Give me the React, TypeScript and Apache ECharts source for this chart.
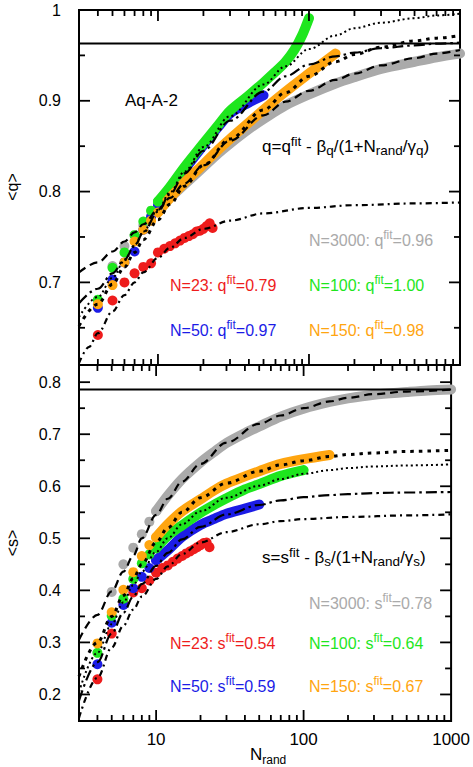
import React, { useEffect, useRef } from "react";
import * as echarts from "echarts";

const FONT = "'Liberation Sans', Arial, Helvetica, sans-serif";

const X_MIN = 3;
const X_MAX = 1000;
const Q_MIN = 0.609;
const Q_MAX = 1.0;
const S_MIN = 0.149;
const S_MAX = 0.833;

const xMajorTicks = [10, 100];
const xMinorTicks = [4, 5, 6, 7, 8, 9, 20, 30, 40, 50, 60, 70, 80, 90, 200, 300, 400, 500, 600, 700, 800, 900];
const xTickLabels = [10, 100, 1000];
const qMajorTicks = [0.7, 0.8, 0.9, 1.0];
const qMinorTicks = [0.65, 0.75, 0.85, 0.95];
const sMajorTicks = [0.2, 0.3, 0.4, 0.5, 0.6, 0.7, 0.8];
const sMinorTicks = [0.25, 0.35, 0.45, 0.55, 0.65, 0.75];

const qAsymptote = 0.963;
const sAsymptote = 0.786;

// ---------- top panel: <q> vs N_rand ----------
const qGray = [[5,0.718],[6,0.740],[7,0.752],[8,0.763],[9,0.773],[10,0.781],[12,0.793],[15,0.808],[20,0.827],[25,0.842],[30,0.853],[40,0.869],[50,0.880],[70,0.895],[100,0.907],[150,0.919],[200,0.926],[300,0.935],[500,0.943],[700,0.948],[1000,0.952]];
const qRed = [[4,0.642],[5,0.680],[6,0.700],[7,0.710],[8,0.717],[9,0.721],[10,0.733],[11,0.737],[12,0.740],[13,0.743],[14,0.746],[15,0.749],[16,0.751],[17,0.753],[18,0.756],[19,0.757],[20,0.759],[21,0.762],[22,0.765],[23,0.760]];
const qBlue = [[4,0.672],[5,0.703],[6,0.722],[7,0.734],[8,0.758],[9,0.772],[10,0.784],[12,0.800],[15,0.824],[20,0.851],[25,0.871],[30,0.886],[40,0.898],[50,0.906]];
const qGreen = [[4,0.681],[5,0.716],[6,0.733],[7,0.752],[8,0.767],[9,0.779],[10,0.789],[12,0.805],[15,0.827],[20,0.853],[25,0.873],[30,0.889],[40,0.906],[50,0.920],[60,0.932],[70,0.943],[80,0.956],[90,0.972],[100,0.991]];
const qOrange = [[4,0.676],[5,0.697],[6,0.722],[7,0.745],[8,0.758],[9,0.768],[10,0.777],[12,0.793],[15,0.810],[20,0.830],[25,0.846],[30,0.858],[40,0.876],[50,0.890],[70,0.910],[100,0.930],[120,0.940],[150,0.952]];

const qGrayFit = [[3,0.711],[4,0.722],[5,0.734],[6,0.745],[7,0.755],[8,0.764],[10,0.780],[12,0.793],[15,0.809],[20,0.829],[30,0.856],[50,0.884],[70,0.899],[100,0.911],[150,0.923],[200,0.930],[300,0.939],[500,0.947],[700,0.952],[1000,0.956]];
const qRedFit = [[3,0.611],[3.5,0.629],[4,0.644],[5,0.668],[6,0.686],[7,0.700],[8,0.711],[10,0.727],[12,0.738],[15,0.749],[20,0.759],[30,0.768],[50,0.776],[100,0.782],[200,0.785],[500,0.787],[1000,0.788]];
const qBlueFit = [[3,0.677],[4,0.693],[5,0.710],[6,0.725],[7,0.740],[8,0.755],[10,0.778],[12,0.797],[15,0.820],[20,0.845],[30,0.878],[50,0.910],[70,0.927],[100,0.940],[150,0.949],[200,0.953],[300,0.958],[500,0.961],[700,0.963],[1000,0.964]];
const qGreenFit = [[3,0.662],[4,0.684],[5,0.705],[6,0.724],[7,0.741],[8,0.756],[10,0.780],[12,0.799],[15,0.822],[20,0.849],[30,0.883],[50,0.918],[70,0.938],[100,0.957],[150,0.972],[200,0.980],[300,0.986],[500,0.991],[700,0.994],[1000,0.996]];
const qOrangeFit = [[3,0.652],[4,0.676],[5,0.698],[6,0.717],[7,0.733],[8,0.747],[10,0.769],[12,0.786],[15,0.806],[20,0.829],[30,0.858],[50,0.890],[70,0.909],[100,0.927],[150,0.943],[200,0.951],[300,0.959],[500,0.966],[700,0.969],[1000,0.972]];

// ---------- bottom panel: <s> vs N_rand ----------
const sGray = [[5,0.397],[6,0.450],[7,0.482],[8,0.508],[9,0.532],[10,0.552],[12,0.582],[15,0.614],[20,0.646],[25,0.667],[30,0.683],[40,0.702],[50,0.715],[70,0.734],[100,0.749],[150,0.762],[200,0.769],[300,0.776],[500,0.781],[700,0.784],[1000,0.786]];
const sRed = [[4,0.229],[5,0.317],[6,0.376],[7,0.396],[8,0.404],[9,0.419],[10,0.434],[11,0.443],[12,0.448],[13,0.455],[14,0.461],[15,0.466],[16,0.471],[17,0.475],[18,0.479],[19,0.483],[20,0.487],[21,0.491],[22,0.492],[23,0.483]];
const sBlue = [[4,0.258],[5,0.338],[6,0.372],[7,0.404],[8,0.426],[9,0.443],[10,0.458],[12,0.477],[15,0.503],[20,0.526],[25,0.538],[30,0.547],[40,0.557],[50,0.565]];
const sGreen = [[4,0.280],[5,0.351],[6,0.384],[7,0.422],[8,0.452],[9,0.469],[10,0.481],[12,0.505],[15,0.525],[20,0.549],[25,0.565],[30,0.577],[40,0.594],[50,0.604],[70,0.620],[100,0.631]];
const sOrange = [[4,0.298],[5,0.358],[6,0.401],[7,0.435],[8,0.466],[9,0.487],[10,0.502],[12,0.527],[15,0.552],[20,0.575],[25,0.593],[30,0.605],[40,0.619],[50,0.629],[70,0.643],[100,0.652],[150,0.660]];

const sGrayFit = [[3,0.305],[4,0.353],[5,0.398],[6,0.436],[7,0.467],[8,0.500],[10,0.545],[12,0.576],[15,0.609],[20,0.643],[30,0.684],[50,0.720],[70,0.736],[100,0.750],[150,0.763],[200,0.770],[300,0.777],[500,0.782],[1000,0.786]];
const sRedFit = [[3,0.155],[4,0.232],[5,0.290],[6,0.332],[7,0.363],[8,0.388],[10,0.422],[12,0.446],[15,0.470],[20,0.492],[30,0.512],[50,0.527],[70,0.533],[100,0.537],[200,0.541],[500,0.544],[1000,0.546]];
const sBlueFit = [[3,0.188],[4,0.262],[5,0.317],[6,0.357],[7,0.388],[8,0.412],[10,0.447],[12,0.472],[15,0.498],[20,0.522],[30,0.546],[50,0.564],[70,0.573],[100,0.579],[150,0.583],[200,0.585],[300,0.587],[500,0.588],[1000,0.589]];
const sGreenFit = [[3,0.205],[4,0.280],[5,0.335],[6,0.377],[7,0.410],[8,0.436],[10,0.474],[12,0.500],[15,0.527],[20,0.552],[30,0.578],[50,0.601],[70,0.614],[100,0.624],[150,0.631],[200,0.635],[300,0.638],[500,0.640],[1000,0.642]];
const sOrangeFit = [[3,0.235],[4,0.300],[5,0.350],[6,0.390],[7,0.423],[8,0.450],[10,0.492],[12,0.520],[15,0.550],[20,0.578],[30,0.606],[50,0.629],[70,0.641],[100,0.649],[150,0.657],[200,0.661],[300,0.664],[500,0.667],[1000,0.669]];

const C_GRAY = "#aaaaaa";
const C_RED = "#ee1c1c";
const C_BLUE = "#1c1ce6";
const C_GREEN = "#1ee61e";
const C_ORANGE = "#ffa510";

const FIT_GRAY = { width: 2.2, type: [8, 5] };
const FIT_RED = { width: 2.2, type: [6, 4, 2, 4] };
const FIT_BLUE = { width: 2.2, type: [11, 4, 2.5, 4] };
const FIT_GREEN = { width: 2, type: [2, 3] };
const FIT_ORANGE = { width: 3, type: [3.5, 5] };

const DOT = 10;

function dotSeries(data: number[][], color: string, gi: number, bandFrom: number | null) {
  const out: any[] = [];
  const dots = bandFrom === null ? data : data.filter((d) => d[0] <= bandFrom);
  out.push({
    type: "scatter", xAxisIndex: gi, yAxisIndex: gi, data: dots, symbol: "circle",
    symbolSize: DOT, itemStyle: { color, opacity: 1 }, z: 2, silent: true,
  });
  if (bandFrom !== null) {
    const band = data.filter((d) => d[0] >= bandFrom);
    out.push({
      type: "line", xAxisIndex: gi, yAxisIndex: gi, data: band, symbol: "none", smooth: 0.3,
      lineStyle: { color, width: DOT, cap: "round", join: "round" }, z: 2, silent: true,
    });
  }
  return out;
}

function fitSeries(data: number[][], style: any, gi: number) {
  return {
    type: "line", xAxisIndex: gi, yAxisIndex: gi, data, symbol: "none", smooth: 0.35,
    smoothMonotone: "x",
    lineStyle: { color: "#000", width: style.width, type: style.type, cap: "butt" }, z: 3, silent: true,
  };
}

function hLine(v: number, gi: number) {
  return {
    type: "line", xAxisIndex: gi, yAxisIndex: gi, data: [[X_MIN, v], [X_MAX, v]], symbol: "none",
    lineStyle: { color: "#000", width: 2, type: "solid" }, z: 4, silent: true,
  };
}

function xTickSeries(gi: number, yMin: number, yMax: number) {
  const data = [
    ...xMajorTicks.map((v) => [v, yMin, 1]),
    ...xMinorTicks.map((v) => [v, yMin, 0]),
  ];
  return {
    type: "custom", xAxisIndex: gi, yAxisIndex: gi, data, encode: { x: 0, y: 1 }, z: 6, silent: true, clip: false,
    renderItem: (_p: any, api: any) => {
      const x = api.value(0);
      const len = api.value(2) ? 11 : 6;
      const pb = api.coord([x, yMin]);
      const pt = api.coord([x, yMax]);
      return {
        type: "group",
        children: [
          { type: "line", shape: { x1: pb[0], y1: pb[1], x2: pb[0], y2: pb[1] - len }, style: { stroke: "#000", lineWidth: 1.8 } },
          { type: "line", shape: { x1: pt[0], y1: pt[1], x2: pt[0], y2: pt[1] + len }, style: { stroke: "#000", lineWidth: 1.8 } },
        ],
      };
    },
  };
}

function yTickSeries(gi: number, major: number[], minor: number[]) {
  const data = [...major.map((v) => [X_MIN, v, 1]), ...minor.map((v) => [X_MIN, v, 0])];
  return {
    type: "custom", xAxisIndex: gi, yAxisIndex: gi, data, encode: { x: 0, y: 1 }, z: 6, silent: true, clip: false,
    renderItem: (_p: any, api: any) => {
      const y = api.value(1);
      const len = api.value(2) ? 11 : 6;
      const pl = api.coord([X_MIN, y]);
      const pr = api.coord([X_MAX, y]);
      return {
        type: "group",
        children: [
          { type: "line", shape: { x1: pl[0], y1: pl[1], x2: pl[0] + len, y2: pl[1] }, style: { stroke: "#000", lineWidth: 1.8 } },
          { type: "line", shape: { x1: pr[0], y1: pr[1], x2: pr[0] - len, y2: pr[1] }, style: { stroke: "#000", lineWidth: 1.8 } },
        ],
      };
    },
  };
}

const RICH = (color: string, main: number, small: number) => ({
  m: { fontSize: main, fontFamily: FONT, fill: color, color, lineHeight: main + 6 },
  sup: { fontSize: small, fontFamily: FONT, fill: color, color, lineHeight: small + 1, verticalAlign: "top" },
  sub: { fontSize: small, fontFamily: FONT, fill: color, color, lineHeight: small, verticalAlign: "bottom" },
});

function label(x: number, y: number, text: string, color: string, main = 16, small = 12, rotation = 0, align = "left") {
  return {
    type: "text", x, y, rotation, z: 20, silent: true,
    style: { text, rich: RICH(color, main, small), align, verticalAlign: "middle", fill: color, font: `${main}px ${FONT}` },
  };
}

function fitLabel(n: string, sym: string, val: string) {
  return `{m|N=${n}: ${sym}}{sup|fit}{m|=${val}}`;
}

export default function App() {
  const ref = useRef<HTMLDivElement>(null);
  useEffect(() => {
    if (!ref.current) return;
    const chart = echarts.init(ref.current, null, { renderer: "svg" });
    const yLabel = (v: number) => (Math.abs(v - 1) < 1e-9 ? "1" : v.toFixed(1));
    const option: any = {
      animation: false,
      grid: [
        { left: 79, top: 10, width: 381, height: 355, show: true, borderColor: "#000", borderWidth: 2, backgroundColor: "transparent" },
        { left: 79, top: 365, width: 381, height: 356, show: true, borderColor: "#000", borderWidth: 2, backgroundColor: "transparent" },
      ],
      xAxis: [
        { type: "log", logBase: 10, gridIndex: 0, min: X_MIN, max: X_MAX, axisLine: { show: false }, axisTick: { show: false }, axisLabel: { show: false }, splitLine: { show: false } },
        {
          type: "log", logBase: 10, gridIndex: 1, min: X_MIN, max: X_MAX, axisLine: { show: false }, axisTick: { show: false }, splitLine: { show: false },
          axisLabel: { customValues: xTickLabels, formatter: (v: number) => String(Math.round(v)), fontSize: 17, fontFamily: FONT, color: "#000", margin: 10, showMinLabel: true, showMaxLabel: true, alignMaxLabel: "center" },
        },
      ],
      yAxis: [
        {
          type: "value", gridIndex: 0, min: Q_MIN, max: Q_MAX, axisLine: { show: false }, axisTick: { show: false }, splitLine: { show: false },
          axisLabel: { customValues: qMajorTicks, formatter: yLabel, fontSize: 16, fontFamily: FONT, color: "#000", margin: 18 },
        },
        {
          type: "value", gridIndex: 1, min: S_MIN, max: S_MAX, axisLine: { show: false }, axisTick: { show: false }, splitLine: { show: false },
          axisLabel: { customValues: sMajorTicks, formatter: yLabel, fontSize: 16, fontFamily: FONT, color: "#000", margin: 18 },
        },
      ],
      series: [
        ...dotSeries(qGray, C_GRAY, 0, 10),
        ...dotSeries(qRed, C_RED, 0, null),
        ...dotSeries(qBlue, C_BLUE, 0, 10),
        ...dotSeries(qGreen, C_GREEN, 0, 10),
        ...dotSeries(qOrange, C_ORANGE, 0, 10),
        fitSeries(qGrayFit, FIT_GRAY, 0),
        fitSeries(qRedFit, FIT_RED, 0),
        fitSeries(qBlueFit, FIT_BLUE, 0),
        fitSeries(qGreenFit, FIT_GREEN, 0),
        fitSeries(qOrangeFit, FIT_ORANGE, 0),
        hLine(qAsymptote, 0),
        ...dotSeries(sGray, C_GRAY, 1, 10),
        ...dotSeries(sRed, C_RED, 1, null),
        ...dotSeries(sBlue, C_BLUE, 1, 10),
        ...dotSeries(sGreen, C_GREEN, 1, 10),
        ...dotSeries(sOrange, C_ORANGE, 1, 10),
        fitSeries(sGrayFit, FIT_GRAY, 1),
        fitSeries(sRedFit, FIT_RED, 1),
        fitSeries(sBlueFit, FIT_BLUE, 1),
        fitSeries(sGreenFit, FIT_GREEN, 1),
        fitSeries(sOrangeFit, FIT_ORANGE, 1),
        hLine(sAsymptote, 1),
        xTickSeries(0, Q_MIN, Q_MAX),
        xTickSeries(1, S_MIN, S_MAX),
        yTickSeries(0, qMajorTicks, qMinorTicks),
        yTickSeries(1, sMajorTicks, sMinorTicks),
      ],
      graphic: [
        label(125, 100, "{m|Aq-A-2}", "#000", 17, 12),
        label(262, 146, "{m|q=q}{sup|fit}{m| - β}{sub|q}{m|/(1+N}{sub|rand}{m|/γ}{sub|q}{m|)}", "#000", 17, 13.5),
        label(309, 240, fitLabel("3000", "q", "0.96"), C_GRAY),
        label(170, 285, fitLabel("23", "q", "0.79"), C_RED),
        label(309, 285, fitLabel("100", "q", "1.00"), C_GREEN),
        label(170, 330, fitLabel("50", "q", "0.97"), C_BLUE),
        label(309, 330, fitLabel("150", "q", "0.98"), C_ORANGE),
        label(262, 557, "{m|s=s}{sup|fit}{m| - β}{sub|s}{m|/(1+N}{sub|rand}{m|/γ}{sub|s}{m|)}", "#000", 17, 13.5),
        label(309, 603, fitLabel("3000", "s", "0.78"), C_GRAY),
        label(170, 643, fitLabel("23", "s", "0.54"), C_RED),
        label(309, 643, fitLabel("100", "s", "0.64"), C_GREEN),
        label(170, 686, fitLabel("50", "s", "0.59"), C_BLUE),
        label(309, 686, fitLabel("150", "s", "0.67"), C_ORANGE),
        label(12, 187, "{m|<q>}", "#000", 16, 12, Math.PI / 2, "center"),
        label(12, 543, "{m|<s>}", "#000", 16, 12, Math.PI / 2, "center"),
        label(250, 754, "{m|N}{sub|rand}", "#000", 17, 12),
      ],
    };
    chart.setOption(option);
    return () => chart.dispose();
  }, []);
  return (
    <div
      ref={ref}
      style={{ position: "fixed", left: 0, top: 0, width: 473, height: 767, background: "#fff" }}
    />
  );
}
